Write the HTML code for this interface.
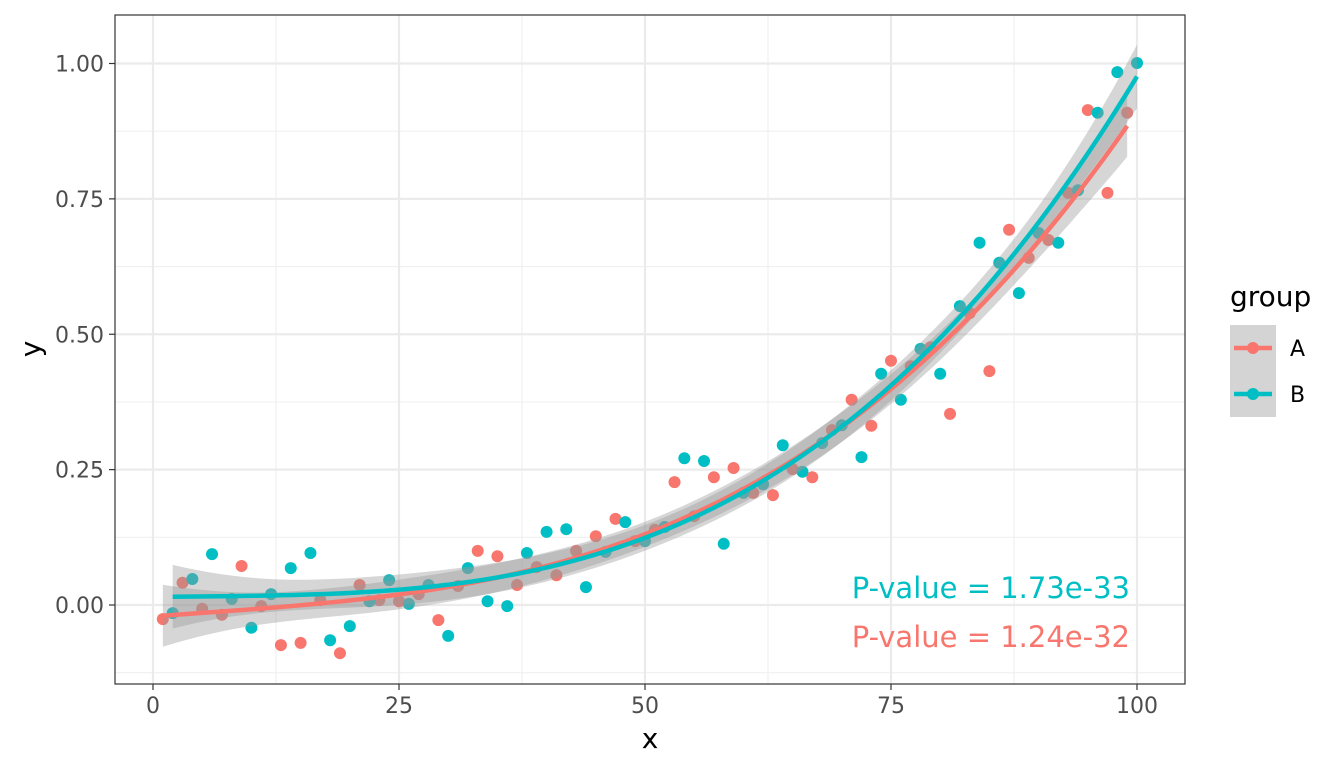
<!DOCTYPE html>
<html><head><meta charset="utf-8"><style>
body{margin:0;background:#fff;}
svg text{font-family:"DejaVu Sans",sans-serif;}
</style></head><body>
<svg id="chart" width="1344" height="768" xmlns="http://www.w3.org/2000/svg"></svg>
<script>
const xA=[1,3,5,7,9,11,13,15,17,19,21,23,25,27,29,31,33,35,37,39,41,43,45,47,49,51,53,55,57,59,61,63,65,67,69,71,73,75,77,79,81,83,85,87,89,91,93,95,97,99];
const yA=[-0.026,0.041,-0.007,-0.018,0.072,-0.002,-0.074,-0.070,0.009,-0.089,0.037,0.009,0.007,0.020,-0.028,0.035,0.100,0.090,0.037,0.070,0.055,0.100,0.127,0.159,0.118,0.139,0.227,0.164,0.236,0.253,0.207,0.203,0.251,0.236,0.323,0.379,0.331,0.451,0.441,0.476,0.353,0.539,0.432,0.693,0.641,0.674,0.761,0.914,0.761,0.909];
const xB=[2,4,6,8,10,12,14,16,18,20,22,24,26,28,30,32,34,36,38,40,42,44,46,48,50,52,54,56,58,60,62,64,66,68,70,72,74,76,78,80,82,84,86,88,90,92,94,96,98,100];
const yB=[-0.015,0.048,0.094,0.011,-0.042,0.020,0.068,0.096,-0.065,-0.039,0.007,0.046,0.002,0.037,-0.057,0.068,0.007,-0.002,0.096,0.135,0.140,0.033,0.098,0.153,0.118,0.144,0.271,0.266,0.113,0.207,0.223,0.295,0.246,0.299,0.332,0.273,0.427,0.379,0.473,0.427,0.552,0.669,0.632,0.576,0.687,0.669,0.766,0.909,0.984,1.001];
const xTicks=[0,25,50,75,100];
const yTicks=[0,0.25,0.5,0.75,1];
const yTickLabels=["0.00","0.25","0.50","0.75","1.00"];
const pLabels=["P-value = 1.73e-33","P-value = 1.24e-32"];

const NS="http://www.w3.org/2000/svg";
const svg=document.getElementById('chart');
const P={l:115,r:1185,t:15,b:684};
const X=v=>153+v*9.84;
const Y=v=>605-v*541.5;
function mk(tag,at,parent){const e=document.createElementNS(NS,tag);for(const k in at)e.setAttribute(k,at[k]);(parent||svg).appendChild(e);return e;}

let r=mk('rect',{x:P.l,y:P.t,width:P.r-P.l,height:P.b-P.t,fill:'#fff'});


for(let i=0;i<xTicks.length-1;i++){const v=(xTicks[i]+xTicks[i+1])/2;mk('line',{x1:X(v),x2:X(v),y1:P.t,y2:P.b,stroke:'#f0f0f0','stroke-width':1.2});}
for(let v=-0.125;v<=1.1;v+=0.25){mk('line',{x1:P.l,x2:P.r,y1:Y(v),y2:Y(v),stroke:'#f0f0f0','stroke-width':1.2});}
xTicks.forEach(v=>{let g=mk('line',{x1:X(v),x2:X(v),y1:P.t,y2:P.b,stroke:'#ebebeb','stroke-width':2.2});

});
yTicks.forEach(v=>{let g=mk('line',{x1:P.l,x2:P.r,y1:Y(v),y2:Y(v),stroke:'#ebebeb','stroke-width':2.2});

});

function fit(xs,ys){
  const n=xs.length,t=xs.map(x=>(x-50)/50);
  const M=[[0,0,0,0],[0,0,0,0],[0,0,0,0],[0,0,0,0]],b=[0,0,0,0];
  for(let i=0;i<n;i++){const f=[1,t[i],t[i]**2,t[i]**3];for(let a=0;a<4;a++){b[a]+=f[a]*ys[i];for(let c=0;c<4;c++)M[a][c]+=f[a]*f[c];}}
  const A=M.map((row,i)=>row.concat([0,1,2,3].map(j=>i===j?1:0)));
  for(let i=0;i<4;i++){let p=A[i][i];for(let j=0;j<8;j++)A[i][j]/=p;for(let k=0;k<4;k++)if(k!==i){const f=A[k][i];for(let j=0;j<8;j++)A[k][j]-=f*A[i][j];}}
  const inv=A.map(r=>r.slice(4));
  const beta=inv.map(r=>r.reduce((s,v,j)=>s+v*b[j],0));
  let rss=0;for(let i=0;i<n;i++){const f=[1,t[i],t[i]**2,t[i]**3];const p=f.reduce((s,v,j)=>s+v*beta[j],0);rss+=(ys[i]-p)**2;}
  const sig=Math.sqrt(rss/(n-4));
  const pts=[];const lo=Math.min(...xs),hi=Math.max(...xs);
  for(let k=0;k<=80;k++){const x=lo+(hi-lo)*k/80,tt=(x-50)/50,f=[1,tt,tt*tt,tt**3];
    const p=f.reduce((s,v,j)=>s+v*beta[j],0);let q=0;for(let a=0;a<4;a++)for(let c=0;c<4;c++)q+=f[a]*inv[a][c]*f[c];
    const se=sig*Math.sqrt(q)*2.013;pts.push([x,p,p-se,p+se]);}
  return pts;
}
const groups=[{n:'a',xs:xA,ys:yA,c:'#F8766D'},{n:'b',xs:xB,ys:yB,c:'#00BFC4'}];
groups.forEach(g=>{g.xs.forEach((x,i)=>{const c=mk('circle',{cx:X(x),cy:Y(g.ys[i]),r:6,fill:g.c});

});});
groups.forEach(g=>{g.fit=fit(g.xs,g.ys);
  const d='M'+g.fit.map(p=>X(p[0])+','+Y(p[3])).join('L')+'L'+g.fit.slice().reverse().map(p=>X(p[0])+','+Y(p[2])).join('L')+'Z';
  const e=mk('path',{d:d,fill:'#999999','fill-opacity':0.4});
  
  });
groups.forEach(g=>{const e=mk('path',{d:'M'+g.fit.map(p=>X(p[0])+','+Y(p[1])).join('L'),fill:'none',stroke:g.c,'stroke-width':4.5});
  
  });

let pv1=mk('text',{x:1130,y:598,'text-anchor':'end','font-size':29,fill:'#00BFC4'});pv1.textContent=pLabels[0];


let pv2=mk('text',{x:1130,y:647,'text-anchor':'end','font-size':29,fill:'#F8766D'});pv2.textContent=pLabels[1];



let bd=mk('rect',{x:P.l,y:P.t,width:P.r-P.l,height:P.b-P.t,fill:'none',stroke:'#333','stroke-width':1.2});


xTicks.forEach(v=>{mk('line',{x1:X(v),x2:X(v),y1:P.b,y2:P.b+6,stroke:'#333','stroke-width':1.2});
  const t=mk('text',{x:X(v),y:P.b+29,'text-anchor':'middle','font-size':22,fill:'#4d4d4d'});t.textContent=v;
  
  });
yTicks.forEach((v,i)=>{mk('line',{x1:P.l-6,x2:P.l,y1:Y(v),y2:Y(v),stroke:'#333','stroke-width':1.2});
  const t=mk('text',{x:P.l-11,y:Y(v)+8,'text-anchor':'end','font-size':22,fill:'#4d4d4d'});t.textContent=yTickLabels[i];
  
  });
let xt=mk('text',{x:650,y:748,'text-anchor':'middle','font-size':28,fill:'#000'});xt.textContent='x';


let yt=mk('text',{x:0,y:0,'text-anchor':'middle','font-size':28,fill:'#000',transform:'translate(40,349) rotate(-90)'});yt.textContent='y';



let lt=mk('text',{x:1230,y:306,'font-size':28,fill:'#000'});lt.textContent='group';


[['A','#F8766D',325],['B','#00BFC4',371]].forEach(([lab,c,y0])=>{
  const g=mk('g',{});
  
  
  mk('rect',{x:1230,y:y0,width:46,height:46,fill:'#d4d4d4'},g);
  mk('line',{x1:1234,x2:1272,y1:y0+23,y2:y0+23,stroke:c,'stroke-width':4.5},g);
  mk('circle',{cx:1253,cy:y0+23,r:6,fill:c},g);
  const t=mk('text',{x:1290,y:y0+31,'font-size':22,fill:'#000'},g);t.textContent=lab;});
</script>
</body></html>
